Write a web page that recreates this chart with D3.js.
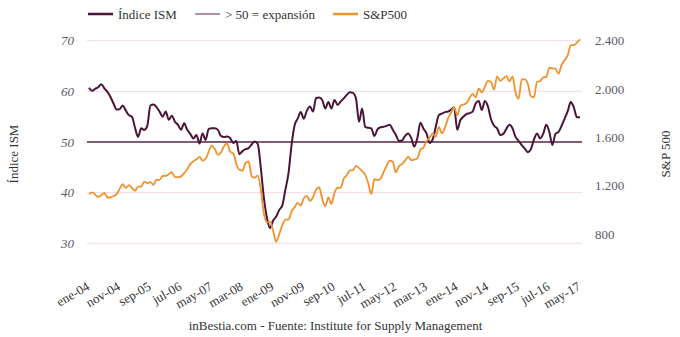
<!DOCTYPE html>
<html><head><meta charset="utf-8">
<script src="https://cdn.jsdelivr.net/npm/d3@7"></script>
<style>
body{margin:0;background:#fff}
svg{display:block}
text{font-family:"Liberation Serif","Times New Roman",serif}
</style>
</head><body>
<svg id="c" width="680" height="337"></svg>
<script>
const monthNames = ["ene","feb","mar","abr","may","jun","jul","ago","sep","oct","nov","dic"];
const yearLabels = ["04","05","06","07","08","09","10","11","12","13","14","15","16","17"];
const categories = [];
yearLabels.forEach(yy => monthNames.forEach(m => categories.push(m + "-" + yy)));
categories.length = 161; // ene-04 .. may-17

const tickLabels = ["ene-04","nov-04","sep-05","jul-06","may-07","mar-08","ene-09","nov-09","sep-10","jul-11","may-12","mar-13","ene-14","nov-14","sep-15","jul-16","may-17"];

const ism = [
  60.7,60.1,60.5,60.8,61.4,60.6,59.9,58.9,57.6,56.4,56.5,57.2,
  56.2,55.3,55.0,52.8,51.0,52.7,52.4,53.2,57.2,57.4,56.9,56.0,
  55.0,56.0,54.4,55.2,54.0,53.4,52.4,53.7,52.4,51.6,50.7,51.4,
  49.7,51.7,50.4,52.6,52.7,52.7,52.4,51.2,51.0,51.1,50.8,49.8,
  50.2,47.6,48.2,48.6,48.8,49.5,50.1,49.6,44.8,38.9,35.0,33.0,
  34.5,35.3,36.6,37.5,40.6,43.8,49.4,53.3,54.6,55.9,54.6,56.2,
  57.0,56.0,58.7,58.8,58.3,56.6,57.9,56.6,58.3,57.3,58.0,58.6,
  59.3,59.8,59.7,58.6,54.0,56.6,53.0,52.8,52.7,51.2,52.5,52.9,
  53.0,53.2,53.4,52.4,51.4,50.2,50.3,51.2,51.7,50.8,49.1,50.8,
  53.8,52.6,51.7,49.8,50.5,53.0,55.3,55.6,55.9,56.0,56.4,56.8,
  52.4,54.3,55.0,55.5,55.7,56.0,57.6,58.1,56.3,58.1,57.0,54.5,
  53.2,52.7,51.4,51.6,52.6,53.4,52.7,51.0,50.2,49.4,48.7,48.0,
  48.6,50.5,51.7,50.7,51.6,53.4,52.0,49.4,51.6,52.0,53.2,54.6,
  56.1,57.9,56.8,54.9,54.9
];

const sp500 = [
  1131,1145,1126,1107,1121,1141,1102,1104,1115,1130,1174,1212,
  1181,1204,1181,1157,1192,1191,1234,1220,1229,1207,1249,1248,
  1280,1281,1295,1311,1270,1270,1277,1304,1336,1378,1401,1418,
  1438,1407,1421,1482,1531,1503,1455,1474,1527,1549,1481,1468,
  1379,1331,1323,1386,1400,1280,1267,1283,1165,969,896,903,
  826,735,798,873,919,919,987,1021,1057,1036,1096,1115,
  1074,1104,1169,1187,1089,1031,1102,1049,1141,1183,1181,1258,
  1286,1327,1326,1364,1345,1321,1292,1219,1131,1253,1247,1258,
  1312,1366,1408,1398,1310,1362,1379,1407,1441,1412,1416,1426,
  1498,1515,1569,1598,1631,1606,1686,1633,1682,1757,1806,1848,
  1783,1859,1872,1884,1924,1960,1931,2003,1972,2018,2068,2059,
  1995,2105,2068,2086,2107,2063,2104,1972,1920,2079,2080,2044,
  1940,1932,2060,2065,2097,2099,2174,2171,2168,2126,2199,2239,
  2279,2364,2363,2384,2412
];

const expansionLevel = 50;
const leftTicks = [30,40,50,60,70];
const rightTicks = [800,1200,1600,2000,2400];
const seriesNames = ["Índice ISM","> 50 = expansión","S&P500"];

const C_ISM = "#4b1538", C_EXP = "#5e2a4a", C_EXP_LEG = "#9a6a86", C_SP = "#f0922e";

const svg = d3.select("#c");
const x = d3.scalePoint().domain(categories).range([89, 580]);
const yL = d3.scaleLinear().domain([30,70]).range([243.3, 40.7]);
const yR = d3.scaleLinear().domain([800,2400]).range([234, 40.7]);
const plotL = 87, plotR = 582;

// gridlines
svg.append("g").selectAll("line").data(leftTicks).join("line")
  .attr("x1", plotL).attr("x2", plotR)
  .attr("y1", d => yL(d)).attr("y2", d => yL(d))
  .attr("stroke", "#f2dae3").attr("stroke-width", 1);

// left axis
const gL = svg.append("g").attr("transform", `translate(${plotL},0)`)
  .call(d3.axisLeft(yL).tickValues(leftTicks).tickSize(0).tickPadding(13));
gL.select(".domain").remove();
gL.selectAll("text").attr("font-size", 13).attr("font-style", "italic").attr("fill", "#5a5a66")
  .attr("font-family", '"Liberation Serif",serif');

// right axis
const loc = d3.formatLocale({decimal: ",", thousands: ".", grouping: [3], currency: ["", ""]});
const gR = svg.append("g").attr("transform", `translate(${plotR},0)`)
  .call(d3.axisRight(yR).tickValues(rightTicks).tickSize(0).tickPadding(13).tickFormat(loc.format(",")));
gR.select(".domain").remove();
gR.selectAll("text").attr("font-size", 13).attr("fill", "#5a5a66")
  .attr("font-family", '"Liberation Serif",serif');

// x axis
const gX = svg.append("g").attr("transform", "translate(0,289)")
  .call(d3.axisBottom(x).tickValues(tickLabels).tickSize(0).tickPadding(0));
gX.select(".domain").remove();
gX.selectAll("text")
  .attr("font-size", 13).attr("fill", "#333").attr("font-family", '"Liberation Serif",serif')
  .attr("text-anchor", "end").attr("dy", 0).attr("y", 0)
  .attr("transform", "translate(1,0) rotate(-30)");

// axis titles
svg.append("text").attr("transform", "translate(18,154) rotate(-90)")
  .attr("text-anchor", "middle").attr("font-size", 13).attr("fill", "#333").text("Índice ISM");
svg.append("text").attr("transform", "translate(670,154) rotate(-90)")
  .attr("text-anchor", "middle").attr("font-size", 13).attr("fill", "#333").text("S&P 500");

// 50 line
svg.append("line").attr("x1", plotL).attr("x2", plotR)
  .attr("y1", yL(expansionLevel)).attr("y2", yL(expansionLevel))
  .attr("stroke", C_EXP).attr("stroke-width", 1.3);

// lines
const lineL = d3.line().x((d,i) => x(categories[i])).y(d => yL(d)).curve(d3.curveMonotoneX);
const lineR = d3.line().x((d,i) => x(categories[i])).y(d => yR(d)).curve(d3.curveMonotoneX);
svg.append("path").datum(ism).attr("d", lineL).attr("fill", "none")
  .attr("stroke", C_ISM).attr("stroke-width", 2).attr("stroke-linejoin", "round");
svg.append("path").datum(sp500).attr("d", lineR).attr("fill", "none")
  .attr("stroke", C_SP).attr("stroke-width", 1.8).attr("stroke-linejoin", "round");

// legend
const legend = [
  {name: seriesNames[0], color: C_ISM, w: 2.5, x: 88},
  {name: seriesNames[1], color: C_EXP_LEG, w: 1.5, x: 195},
  {name: seriesNames[2], color: C_SP, w: 2.5, x: 333}
];
const lg = svg.append("g").selectAll("g").data(legend).join("g")
  .attr("transform", d => `translate(${d.x},14)`);
lg.append("line").attr("x1", 0).attr("x2", 25).attr("y1", 0).attr("y2", 0)
  .attr("stroke", d => d.color).attr("stroke-width", d => d.w);
lg.append("text").attr("x", 30).attr("dy", "0.35em").attr("font-size", 13).attr("fill", "#333")
  .text(d => d.name);

// footer
svg.append("text").attr("x", 335.5).attr("y", 330).attr("text-anchor", "middle")
  .attr("font-size", 13).attr("fill", "#333")
  .text("inBestia.com - Fuente: Institute for Supply Management");
</script>
</body></html>
